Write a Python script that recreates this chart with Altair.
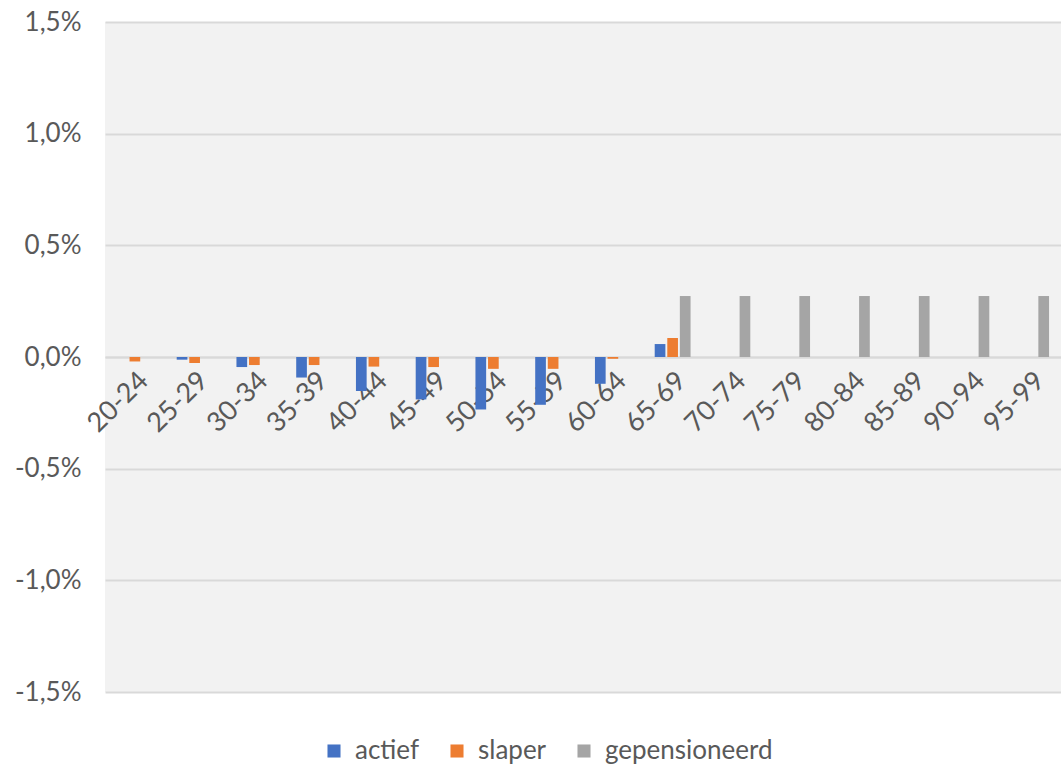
import altair as alt
import pandas as pd

categories = ["20-24", "25-29", "30-34", "35-39", "40-44", "45-49", "50-54", "55-59",
              "60-64", "65-69", "70-74", "75-79", "80-84", "85-89", "90-94", "95-99"]
series = ["actief", "slaper", "gepensioneerd"]
actief = [0.0, -0.00012, -0.00045, -0.00092, -0.00152, -0.0019, -0.00235, -0.00214,
          -0.0012, 0.00058, None, None, None, None, None, None]
slaper = [-0.0002, -0.00027, -0.00036, -0.00036, -0.00043, -0.00045, -0.00053, -0.00053,
          -0.00008, 0.00085, None, None, None, None, None, None]
gepensioneerd = [None, None, None, None, None, None, None, None,
                 None, 0.00273, 0.00273, 0.00273, 0.00273, 0.00273, 0.00273, 0.00273]
colors = ["#4472C4", "#ED7D31", "#A5A5A5"]
y_ticks = [-0.015, -0.01, -0.005, 0.0, 0.005, 0.01, 0.015]

rows = []
for name, vals in zip(series, [actief, slaper, gepensioneerd]):
    for c, v in zip(categories, vals):
        if v is not None:
            rows.append({"leeftijd": c, "status": name, "waarde": v})
df = pd.DataFrame(rows)

FONT = "Lato"
W, H = 956, 670

chart = alt.Chart(df).mark_bar().encode(
    x=alt.X("leeftijd:N", sort=categories, title=None,
            scale=alt.Scale(domain=categories, paddingInner=0.4, paddingOuter=0.2),
            axis=alt.Axis(orient="bottom", offset=-(H / 2), labelAngle=-45,
                          labelAlign="right", labelBaseline="top",
                          labelPadding=10, ticks=False, domain=True,
                          domainColor="#D9D9D9", domainWidth=2,
                          labelFont=FONT, labelFontSize=27, labelColor="#595959")),
    xOffset=alt.XOffset("status:N", sort=series,
                        scale=alt.Scale(domain=series, paddingInner=0.15)),
    y=alt.Y("waarde:Q", title=None,
            scale=alt.Scale(domain=[-0.015, 0.015], nice=False, zero=False),
            axis=alt.Axis(values=y_ticks,
                          labelExpr="replace(replace(format(datum.value, '.1%'), '.', ','), '\u2212', '-')",
                          grid=True, gridColor="#D9D9D9", gridWidth=2, domain=False, ticks=False,
                          labelPadding=24, labelFont=FONT, labelFontSize=26, labelColor="#595959")),
    color=alt.Color("status:N", sort=series,
                    scale=alt.Scale(domain=series, range=colors),
                    legend=alt.Legend(title=None, orient="none", direction="horizontal",
                                      legendX=216, legendY=716, symbolType="square",
                                      symbolSize=170, symbolStrokeWidth=0,
                                      labelFont=FONT, labelFontSize=26, labelColor="#595959",
                                      labelLimit=400, columnPadding=24, labelOffset=8)),
).properties(
    width=W, height=H,
    background="white",
    autosize=alt.AutoSizeParams(type="none"),
    padding={"left": 105, "top": 22, "right": 0, "bottom": 82},
).configure_view(
    fill="#F2F2F2", stroke=None
)

chart.save("out.html", embed_options={"renderer": "svg", "actions": False})
